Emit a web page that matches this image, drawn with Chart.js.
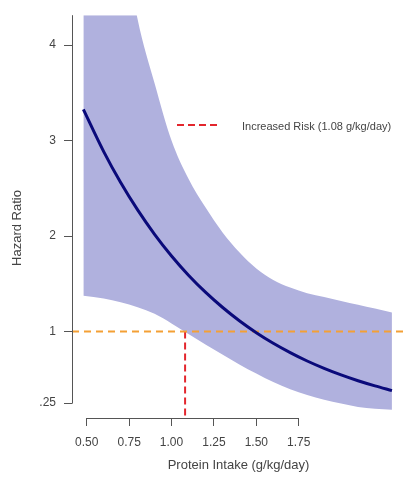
<!DOCTYPE html>
<html>
<head>
<meta charset="utf-8">
<script src="https://cdn.jsdelivr.net/npm/chart.js@4"></script>
<style>
  html, body { margin: 0; padding: 0; background: #fff; }
  #wrap { width: 405px; height: 482px; position: relative; }
</style>
</head>
<body>
<div id="wrap"><canvas id="hrChart"></canvas></div>
<script>
// protein intake grid (g/kg/day)
var intake = [0.48, 0.6, 0.7, 0.8, 0.9, 1.0, 1.1, 1.2, 1.3, 1.4, 1.5, 1.6, 1.7, 1.8, 1.9, 2.0, 2.1, 2.2, 2.3];
// hazard ratio estimate and 95% band
var hazard = [3.326, 2.884, 2.56, 2.273, 2.018, 1.791, 1.59, 1.412, 1.254, 1.113, 0.988, 0.877, 0.779, 0.691, 0.614, 0.545, 0.484, 0.43, 0.381];
var upperCI = [8.5, 6.6, 5.3, 4.27, 3.6, 3.0, 2.6, 2.3, 2.04, 1.83, 1.66, 1.54, 1.46, 1.4, 1.36, 1.32, 1.28, 1.24, 1.2];
var lowerCI = [1.375, 1.345, 1.305, 1.255, 1.185, 1.085, 0.975, 0.865, 0.76, 0.655, 0.56, 0.47, 0.395, 0.335, 0.285, 0.245, 0.21, 0.19, 0.18];

var refHR = 1;
var riskThreshold = 1.08;

var xTicks = [0.5, 0.75, 1.0, 1.25, 1.5, 1.75];
var yTicks = [0.25, 1, 2, 3, 4];
var yTickLabels = ['.25', '1', '2', '3', '4'];

var xMin = 0.413, xMax = 2.377;
var yMin = 0.094, yMax = 4.3125;

var axisColor = '#555555';
var textColor = '#444444';
var fontFamily = 'Arial, "Liberation Sans", sans-serif';

function toPoints(xs, ys) {
  return xs.map(function (x, i) { return { x: x, y: ys[i] }; });
}

// R-style axis lines, y title and legend
var rStyle = {
  id: 'rStyle',
  afterDraw: function (chart) {
    var ctx = chart.ctx;
    var xs = chart.scales.x, ys = chart.scales.y;
    var area = chart.chartArea;
    ctx.save();
    ctx.strokeStyle = axisColor;
    ctx.lineWidth = 1;
    ctx.setLineDash([]);
    ctx.beginPath();
    var ax = Math.round(area.left) + 0.5;
    ctx.moveTo(ax, area.top);
    ctx.lineTo(ax, ys.getPixelForValue(yTicks[0]) + 0.5);
    var ay = Math.round(area.bottom) + 0.5;
    ctx.moveTo(xs.getPixelForValue(xTicks[0]), ay);
    ctx.lineTo(xs.getPixelForValue(xTicks[xTicks.length - 1]), ay);
    ctx.stroke();

    // y axis title
    ctx.fillStyle = textColor;
    ctx.font = '13px ' + fontFamily;
    ctx.textAlign = 'center';
    ctx.textBaseline = 'middle';
    ctx.translate(17, 228);
    ctx.rotate(-Math.PI / 2);
    ctx.fillText('Hazard Ratio', 0, 0);
    ctx.restore();

    // legend
    ctx.save();
    ctx.strokeStyle = '#e3262d';
    ctx.lineWidth = 2;
    ctx.setLineDash([7, 4]);
    ctx.beginPath();
    ctx.moveTo(177, 125);
    ctx.lineTo(221, 125);
    ctx.stroke();
    ctx.fillStyle = textColor;
    ctx.font = '11px ' + fontFamily;
    ctx.textAlign = 'left';
    ctx.textBaseline = 'middle';
    ctx.fillText('Increased Risk (' + riskThreshold.toFixed(2) + ' g/kg/day)', 242, 127);
    ctx.restore();
  }
};

var ctx = document.getElementById('hrChart').getContext('2d');
var chart = new Chart(ctx, {
  type: 'line',
  data: {
    datasets: [
      {
        label: 'upper',
        data: toPoints(intake, upperCI),
        borderWidth: 0,
        pointRadius: 0,
        backgroundColor: 'rgb(176, 177, 222)',
        fill: 1,
        cubicInterpolationMode: 'monotone',
        order: 4
      },
      {
        label: 'lower',
        data: toPoints(intake, lowerCI),
        borderWidth: 0,
        pointRadius: 0,
        fill: false,
        cubicInterpolationMode: 'monotone',
        order: 5
      },
      {
        label: 'Hazard ratio',
        data: toPoints(intake, hazard),
        borderColor: '#0a0a7a',
        borderWidth: 3,
        pointRadius: 0,
        fill: false,
        cubicInterpolationMode: 'monotone',
        order: 0
      },
      {
        label: 'HR = 1',
        data: [{ x: xMin, y: refHR }, { x: xMax, y: refHR }],
        borderColor: '#f4a035',
        borderWidth: 2,
        borderDash: [7, 5],
        pointRadius: 0,
        fill: false,
        order: 1
      },
      {
        label: 'Increased Risk',
        data: [{ x: riskThreshold, y: refHR }, { x: riskThreshold, y: yMin }],
        borderColor: '#e3262d',
        borderWidth: 2,
        borderDash: [7, 4],
        pointRadius: 0,
        fill: false,
        order: 2
      }
    ]
  },
  options: {
    responsive: true,
    maintainAspectRatio: false,
    animation: false,
    layout: { padding: { top: 13, right: 0, bottom: 0, left: 0 } },
    plugins: {
      legend: { display: false },
      tooltip: { enabled: false }
    },
    scales: {
      x: {
        type: 'linear',
        min: xMin,
        max: xMax,
        afterBuildTicks: function (scale) {
          scale.ticks = xTicks.map(function (v) { return { value: v }; });
        },
        afterFit: function (scale) { scale.height = 64; },
        border: { display: false },
        grid: { drawOnChartArea: false, drawTicks: true, tickLength: 8, color: axisColor, lineWidth: 1 },
        ticks: {
          autoSkip: false,
          maxRotation: 0,
          padding: 9,
          color: textColor,
          font: { size: 12, family: fontFamily },
          callback: function (v) { return Number(v).toFixed(2); }
        },
        title: {
          display: true,
          text: 'Protein Intake (g/kg/day)',
          color: textColor,
          font: { size: 13, family: fontFamily },
          padding: { top: 0, bottom: 9 }
        }
      },
      y: {
        type: 'linear',
        min: yMin,
        max: yMax,
        afterBuildTicks: function (scale) {
          scale.ticks = yTicks.map(function (v) { return { value: v }; });
        },
        afterFit: function (scale) { scale.width = 72; },
        border: { display: false },
        grid: { drawOnChartArea: false, drawTicks: true, tickLength: 8, color: axisColor, lineWidth: 1 },
        ticks: {
          autoSkip: false,
          padding: 8,
          color: textColor,
          font: { size: 12, family: fontFamily },
          callback: function (v) {
            var i = yTicks.indexOf(v);
            return i >= 0 ? yTickLabels[i] : '';
          }
        }
      }
    }
  },
  plugins: [rStyle]
});
</script>
</body>
</html>
